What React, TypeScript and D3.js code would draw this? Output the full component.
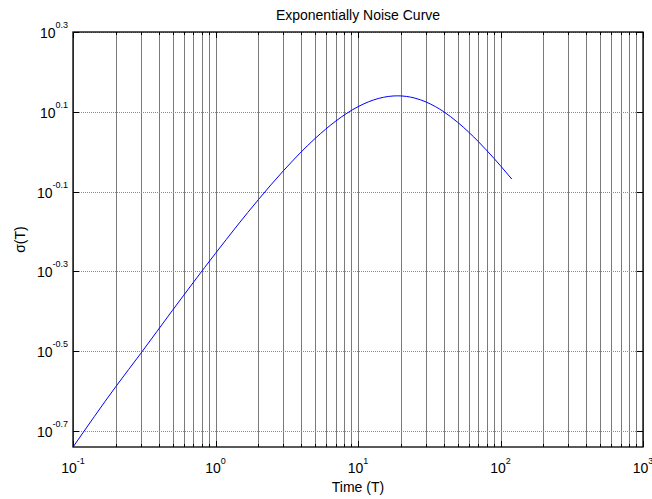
import React from "react";
import * as d3 from "d3";

// Data
const timeValues = [0.1, 0.2, 0.3, 0.5, 1, 2, 3, 5, 7, 10, 14, 19, 25, 30, 35, 40, 50, 60, 70, 90, 100, 120];
const sigmaValues = [0.1819, 0.258, 0.3128, 0.4007, 0.5563, 0.7585, 0.8963, 1.0793, 1.1941, 1.2965, 1.3605, 1.3805, 1.3628, 1.3326, 1.2968, 1.2591, 1.1855, 1.1186, 1.0596, 0.9623, 0.922, 0.8539];

const xDecadeExponents = [-1, 0, 1, 2, 3];
const yTickExponents = [0.3, 0.1, -0.1, -0.3, -0.5, -0.7];
const yTickLabels = ["0.3", "0.1", "-0.1", "-0.3", "-0.5", "-0.7"];
const yDomainExponents = [-0.74, 0.3];

const titleText = "Exponentially Noise Curve";
const xLabelText = "Time (T)";
const yLabelText = "σ(T)";

const W = 652;
const H = 499;
const left = 73;
const right = 643;
const top = 32;
const bottom = 447;
const FONT = "Arial, 'Liberation Sans', Helvetica, sans-serif";

export default function App() {
  const x = d3.scaleLog().domain([Math.pow(10, xDecadeExponents[0]), Math.pow(10, xDecadeExponents[xDecadeExponents.length - 1])]).range([left, right]);
  const y = d3.scaleLog().domain([Math.pow(10, yDomainExponents[0]), Math.pow(10, yDomainExponents[1])]).range([bottom, top]);

  const minorX: number[] = [];
  for (let i = 0; i < xDecadeExponents.length - 1; i++) {
    const base = Math.pow(10, xDecadeExponents[i]);
    for (let m = 2; m <= 9; m++) minorX.push(base * m);
  }
  const majorX = xDecadeExponents.map((e) => Math.pow(10, e));
  const allX = [...majorX, ...minorX];

  const pts = timeValues.map((t, i) => [t, sigmaValues[i]] as [number, number]);
  const line = d3
    .line<[number, number]>()
    .x((d) => x(d[0]))
    .y((d) => y(d[1]))
    .curve(d3.curveMonotoneX);

  const majorLen = 6;
  const minorLen = 3;

  return (
    <svg width={W} height={H} style={{ position: "absolute", left: 0, top: 0, background: "#fff" }} fontFamily={FONT}>
      <rect x={0} y={0} width={W} height={H} fill="#fff" />
      {/* vertical grid */}
      {allX.map((v, i) => (
        <line key={"vg" + i} x1={Math.round(x(v)) + 0.5} x2={Math.round(x(v)) + 0.5} y1={top} y2={bottom} stroke="#7a7a7a" strokeWidth={1} />
      ))}
      {/* horizontal grid */}
      {yTickExponents.map((e, i) => (
        <line key={"hg" + i} x1={left} x2={right} y1={Math.round(y(Math.pow(10, e))) + 0.5} y2={Math.round(y(Math.pow(10, e))) + 0.5} stroke="#8a8a8a" strokeWidth={1} strokeDasharray="1 1" />
      ))}
      {/* x ticks */}
      {allX.map((v, i) => {
        const len = majorX.includes(v) ? majorLen : minorLen;
        const xx = Math.round(x(v)) + 0.5;
        return (
          <g key={"xt" + i}>
            <line x1={xx} x2={xx} y1={bottom} y2={bottom - len} stroke="#000" strokeWidth={1} />
            <line x1={xx} x2={xx} y1={top} y2={top + len} stroke="#000" strokeWidth={1} />
          </g>
        );
      })}
      {/* y ticks */}
      {yTickExponents.map((e, i) => {
        const yy = Math.round(y(Math.pow(10, e))) + 0.5;
        return (
          <g key={"yt" + i}>
            <line x1={left} x2={left + majorLen} y1={yy} y2={yy} stroke="#000" strokeWidth={1} />
            <line x1={right} x2={right - majorLen} y1={yy} y2={yy} stroke="#000" strokeWidth={1} />
          </g>
        );
      })}
      {/* curve */}
      <path d={line(pts) || ""} fill="none" stroke="#0000ff" strokeWidth={1} />
      {/* axes box */}
      <rect x={left} y={top} width={right - left} height={bottom - top} fill="none" stroke="#000" strokeWidth={1.3} />
      {/* x tick labels */}
      {xDecadeExponents.map((e, i) => (
        <text key={"xl" + i} x={x(Math.pow(10, e))} y={473} textAnchor="middle" fontSize={14} fill="#000">
          10
          <tspan fontSize={9} dy={-9}>{String(e)}</tspan>
        </text>
      ))}
      {/* y tick labels */}
      {yTickExponents.map((e, i) => (
        <text key={"yl" + i} x={left - 5} y={y(Math.pow(10, e)) + 6} textAnchor="end" fontSize={14} fill="#000">
          10
          <tspan fontSize={9} dy={-10}>{yTickLabels[i]}</tspan>
        </text>
      ))}
      {/* title */}
      <text x={(left + right) / 2} y={20} textAnchor="middle" fontSize={14} fill="#000">{titleText}</text>
      {/* x label */}
      <text x={(left + right) / 2} y={492} textAnchor="middle" fontSize={14} fill="#000">{xLabelText}</text>
      {/* y label */}
      <text transform={`translate(25, ${(top + bottom) / 2}) rotate(-90)`} textAnchor="middle" fontSize={14} fill="#000">{yLabelText}</text>
    </svg>
  );
}
